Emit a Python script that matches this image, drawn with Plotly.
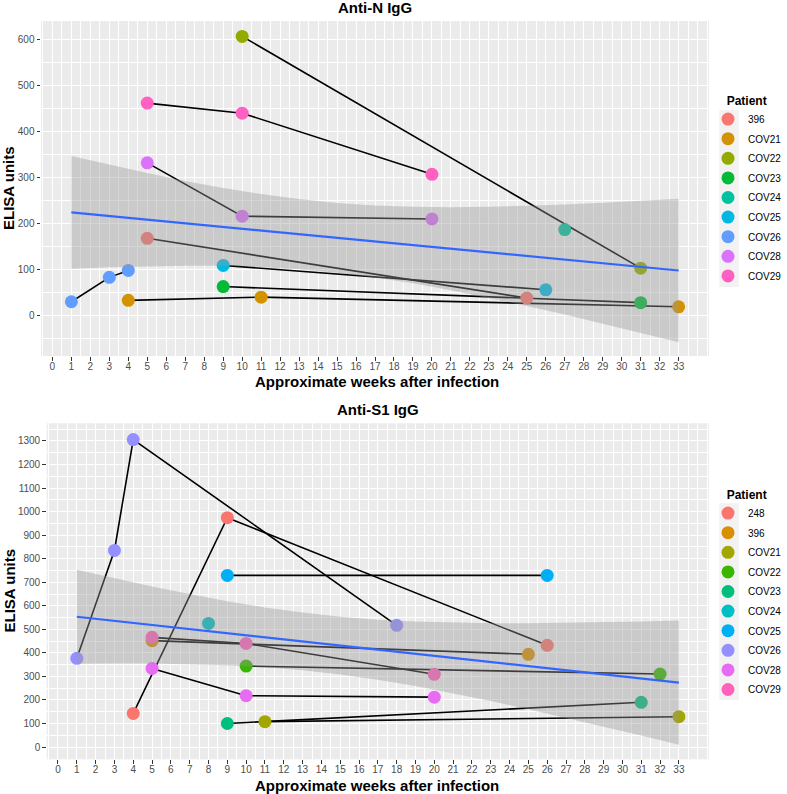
import plotly.graph_objects as go

W, H = 787, 794

# ---------------- Anti-N IgG data ----------------
n_patients = ["396", "COV21", "COV22", "COV23", "COV24", "COV25", "COV26", "COV28", "COV29"]
n_colors = ["#F8766D", "#D39200", "#93AA00", "#00BA38", "#00C19F", "#00B9E3", "#619CFF", "#DB72FB", "#FF61C3"]
n_weeks = [[5, 25], [4, 11, 33], [10, 31], [9, 31], [27], [9, 26], [1, 3, 4], [5, 10, 20], [5, 10, 20]]
n_values = [[168, 38], [33, 40, 19], [607, 103], [63, 28], [187], [109, 56], [30, 83, 98], [332, 216, 210], [462, 440, 307]]

# smooth (lm) fit
n_fit_x = [1, 3, 5, 7, 9, 11, 13, 15, 17, 19, 21, 23, 25, 27, 29, 31, 33]
n_fit_y = [224.3, 216.4, 208.5, 200.6, 192.7, 184.8, 176.9, 169.0, 161.2, 153.3, 145.4, 137.5, 129.6, 121.7, 113.8, 105.9, 98.0]
n_upper = [346.7, 327.7, 309.7, 292.8, 277.4, 264.1, 253.2, 244.9, 239.5, 236.5, 235.6, 236.4, 238.4, 241.4, 245.0, 249.2, 253.9]
n_lower = [101.9, 105.1, 107.3, 108.4, 108.0, 105.5, 100.6, 93.1, 82.9, 70.1, 55.2, 38.6, 20.8, 2.0, -17.4, -37.4, -57.9]

# ---------------- Anti-S1 IgG data ----------------
s_patients = ["248", "396", "COV21", "COV22", "COV23", "COV24", "COV25", "COV26", "COV28", "COV29"]
s_colors = ["#F8766D", "#D89000", "#A3A500", "#39B600", "#00BF7D", "#00BFC4", "#00B0F6", "#9590FF", "#E76BF3", "#FF62BC"]
s_weeks = [[4, 9, 26], [5, 25], [11, 33], [10, 32], [9, 31], [8], [9, 26], [1, 3, 4, 18], [5, 10, 20], [5, 10, 20]]
s_values = [[143, 974, 432], [452, 394], [108, 129], [344, 310], [100, 190], [525], [729, 729],
            [377, 835, 1306, 517], [334, 218, 212], [466, 440, 309]]

s_fit_x = [1, 3, 5, 7, 9, 11, 13, 15, 17, 19, 21, 23, 25, 27, 29, 31, 33]
s_fit_y = [553.4, 535.9, 518.5, 501.0, 483.5, 466.0, 448.5, 431.0, 413.5, 396.1, 378.6, 361.1, 343.6, 326.1, 308.6, 291.2, 273.7]
s_upper = [753.4, 717.1, 682.4, 649.6, 619.6, 593.1, 571.0, 553.7, 541.2, 533.1, 528.4, 526.3, 526.3, 527.7, 530.3, 533.7, 537.7]
s_lower = [353.4, 354.7, 354.6, 352.4, 347.4, 338.9, 326.0, 308.3, 285.8, 259.1, 228.8, 195.9, 160.9, 124.5, 86.9, 48.7, 9.7]

week_ticks = list(range(0, 34))
n_y_ticks = [0, 100, 200, 300, 400, 500, 600]
s_y_ticks = list(range(0, 1400, 100))

FONT = "Liberation Sans, Arial, sans-serif"


def px_x(p):
    return p / W


def px_y(p):
    return 1 - p / H


fig = go.Figure()


def add_panel(patients, colors, weeks, values, fx, fy, up, lo, xa, ya, leg, prefix):
    # connecting lines (under points)
    for p, w, v in zip(patients, weeks, values):
        if len(w) > 1:
            fig.add_trace(go.Scatter(x=w, y=v, mode="lines", line=dict(color="black", width=1.6),
                                     xaxis=xa, yaxis=ya, showlegend=False, hoverinfo="skip",
                                     legendgroup=prefix + p, legend=leg))
    # points
    for p, c, w, v in zip(patients, colors, weeks, values):
        fig.add_trace(go.Scatter(x=w, y=v, mode="markers", name=p,
                                 marker=dict(color=c, size=13, line=dict(width=0)),
                                 xaxis=xa, yaxis=ya, legendgroup=prefix + p, legend=leg))
    # confidence ribbon (drawn over the points like ggplot)
    fig.add_trace(go.Scatter(x=fx + fx[::-1], y=up + lo[::-1], mode="lines", fill="toself",
                             fillcolor="rgba(153,153,153,0.4)", line=dict(width=0),
                             xaxis=xa, yaxis=ya, showlegend=False, hoverinfo="skip"))
    fig.add_trace(go.Scatter(x=fx, y=fy, mode="lines", line=dict(color="#3366FF", width=2.2),
                             xaxis=xa, yaxis=ya, showlegend=False, hoverinfo="skip"))


add_panel(n_patients, n_colors, n_weeks, n_values, n_fit_x, n_fit_y, n_upper, n_lower, "x", "y", "legend", "N_")
add_panel(s_patients, s_colors, s_weeks, s_values, s_fit_x, s_fit_y, s_upper, s_lower, "x2", "y2", "legend2", "S_")

axis_common = dict(
    showgrid=True, gridcolor="white", gridwidth=1.3, zeroline=False, showline=False,
    ticks="outside", ticklen=3.5, tickwidth=1, tickcolor="#333333", automargin=False,
    tickfont=dict(family=FONT, size=10, color="#4D4D4D"),
)
x_extra = dict(range=[-0.6, 34.6], tickmode="array", tickvals=week_ticks, ticklabelstandoff=-3,
               minor=dict(dtick=0.5, tick0=0, showgrid=True, gridcolor="white", gridwidth=0.6, ticks=""))

legend_common = dict(
    x=1.0, xanchor="right", yanchor="top",
    title=dict(text="&nbsp;&nbsp;&nbsp;&nbsp;&nbsp;<b>Patient</b>", font=dict(family=FONT, size=12, color="black")),
    font=dict(family=FONT, size=10, color="black"), bgcolor="rgba(0,0,0,0)",
    tracegroupgap=0.6, itemclick=False, itemdoubleclick=False,
)

fig.update_layout(
    width=W, height=H,
    margin=dict(l=0, r=0, t=0, b=0, autoexpand=False),
    paper_bgcolor="white", plot_bgcolor="#EBEBEB",
    font=dict(family=FONT),
    xaxis=dict(domain=[px_x(41), px_x(709)], anchor="y", **x_extra, **axis_common),
    yaxis=dict(domain=[px_y(356), px_y(21)], anchor="x", range=[-88, 640.5],
               tickmode="array", tickvals=n_y_ticks,
               minor=dict(dtick=50, tick0=0, showgrid=True, gridcolor="white", gridwidth=0.6, ticks=""),
               **axis_common),
    xaxis2=dict(domain=[px_x(46.7), px_x(709)], anchor="y2", **x_extra, **axis_common),
    yaxis2=dict(domain=[px_y(759.3), px_y(423.3)], anchor="x2", range=[-52, 1375],
                tickmode="array", tickvals=s_y_ticks,
                minor=dict(dtick=50, tick0=0, showgrid=True, gridcolor="white", gridwidth=0.6, ticks=""),
                **axis_common),
    legend=dict(y=px_y(89), **legend_common),
    legend2=dict(y=px_y(483), **legend_common),
    shapes=[
        dict(type="rect", xref="paper", yref="paper", x0=px_x(719.3), x1=px_x(738.8), y0=px_y(287), y1=px_y(110),
             fillcolor="#F2F2F2", line=dict(width=0), layer="below"),
        dict(type="rect", xref="paper", yref="paper", x0=px_x(719.3), x1=px_x(738.8), y0=px_y(700), y1=px_y(503.3),
             fillcolor="#F2F2F2", line=dict(width=0), layer="below"),
    ],
)

title_font = dict(family=FONT, size=15, color="black")
annots = [
    dict(text="<b>Anti-N IgG</b>", x=px_x(375), y=px_y(8), font=title_font),
    dict(text="<b>Approximate weeks after infection</b>", x=px_x(377), y=px_y(382), font=title_font),
    dict(text="<b>ELISA units</b>", x=px_x(8.5), y=px_y(188.5), font=title_font, textangle=-90),
    dict(text="<b>Anti-S1 IgG</b>", x=px_x(378), y=px_y(409.5), font=title_font),
    dict(text="<b>Approximate weeks after infection</b>", x=px_x(377), y=px_y(785), font=title_font),
    dict(text="<b>ELISA units</b>", x=px_x(8.5), y=px_y(591), font=title_font, textangle=-90),
]
for a in annots:
    fig.add_annotation(xref="paper", yref="paper", xanchor="center", yanchor="middle", showarrow=False, **a)

# remove the browser's default 8px body margin so the figure sits at the page origin
fig.write_html("out.html", config={"displayModeBar": False},
               post_script="document.body.style.margin='0';")
